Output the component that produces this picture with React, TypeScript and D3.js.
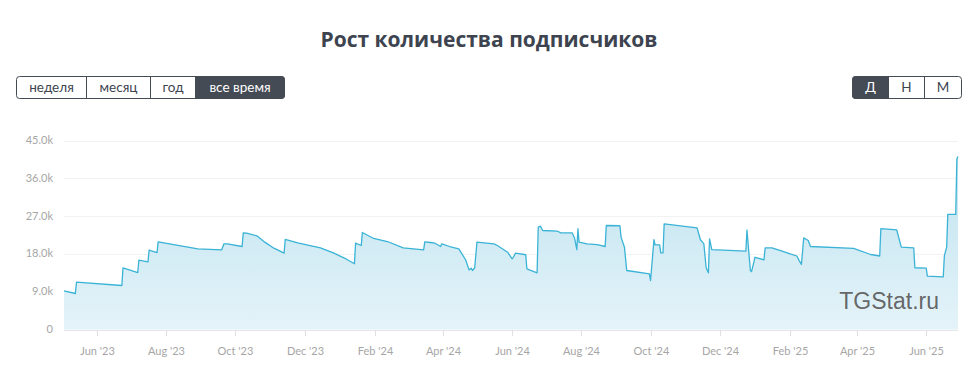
import React from "react";
import * as d3 from "d3";

const dates: string[] = [
  "2023-05-03","2023-05-13","2023-05-14","2023-06-23","2023-06-24","2023-07-07","2023-07-08","2023-07-16","2023-07-17","2023-07-24",
  "2023-07-25","2023-08-29","2023-09-19","2023-09-21","2023-09-24","2023-10-07","2023-10-08","2023-10-11","2023-10-20","2023-10-27",
  "2023-11-04","2023-11-13","2023-11-14","2023-11-25","2023-12-15","2023-12-27","2024-01-07","2024-01-14","2024-01-15","2024-01-20",
  "2024-01-21","2024-01-31","2024-02-12","2024-02-26","2024-03-15","2024-03-16","2024-03-21","2024-03-25","2024-03-30","2024-03-31",
  "2024-04-07","2024-04-15","2024-04-21","2024-04-24","2024-04-26","2024-04-27","2024-04-29","2024-05-01","2024-05-16","2024-05-19",
  "2024-05-28","2024-06-01","2024-06-02","2024-06-04","2024-06-13","2024-06-14","2024-06-23","2024-06-24","2024-06-26","2024-06-28",
  "2024-07-11","2024-07-14","2024-07-24","2024-07-26","2024-07-28","2024-07-29","2024-07-30","2024-08-06","2024-08-15","2024-08-22",
  "2024-08-23","2024-09-04","2024-09-05","2024-09-08","2024-09-10","2024-09-30","2024-10-01","2024-10-04","2024-10-05","2024-10-09",
  "2024-10-10","2024-10-12","2024-10-13","2024-11-11","2024-11-14","2024-11-17","2024-11-19","2024-11-21","2024-11-22","2024-11-24",
  "2024-12-24","2024-12-25","2024-12-26","2024-12-28","2024-12-29","2024-12-31","2025-01-01","2025-01-09","2025-01-10","2025-01-16",
  "2025-01-25","2025-02-01","2025-02-07","2025-02-09","2025-02-11","2025-02-13","2025-02-17","2025-02-19","2025-03-29","2025-04-13",
  "2025-04-21","2025-04-22","2025-05-06","2025-05-10","2025-05-21","2025-05-22","2025-06-01","2025-06-02","2025-06-16","2025-06-17",
  "2025-06-19","2025-06-20","2025-06-27","2025-06-28","2025-06-29",
];

const subscribers: number[] = [
  9200, 8570, 11260, 10480, 14690, 13570, 16500, 16100, 18880, 18330,
  20880, 19200, 18980, 20400, 20400, 19760, 23000, 22930, 22300, 20800,
  19360, 18170, 21430, 20640, 19450, 18170, 16740, 15640, 20550, 20000,
  23100, 21670, 20950, 19450, 18980, 20880, 20710, 20550, 19760, 20400,
  19760, 19200, 16600, 14200, 14600, 14050, 14690, 20800, 20400, 20000,
  18400, 16830, 17200, 18170, 17800, 14450, 13500, 24360, 24600, 23570,
  23400, 23000, 23000, 21800, 19000, 24000, 20800, 20400, 20200, 19760,
  24760, 24700, 22000, 19600, 14050, 13260, 11670, 21400, 20170, 20170,
  18260, 18260, 25170, 24200, 21360, 20400, 14700, 13500, 21600, 19000,
  18640, 23700, 20400, 14050, 13800, 16000, 17200, 16600, 19450, 19450,
  18640, 18000, 17500, 16400, 15500, 21800, 21200, 19760, 19300, 17860,
  17500, 24000, 23700, 19600, 19450, 14700, 14600, 12700, 12550, 17600,
  19600, 27400, 27400, 40600, 41200,
];

const yTicks: number[] = [0, 9000, 18000, 27000, 36000, 45000];
const yTickLabels: string[] = ["0", "9.0k", "18.0k", "27.0k", "36.0k", "45.0k"];

const xTickDates: string[] = [
  "2023-06-01","2023-08-01","2023-10-01","2023-12-01","2024-02-01","2024-04-01","2024-06-01",
  "2024-08-01","2024-10-01","2024-12-01","2025-02-01","2025-04-01","2025-06-01",
];
const xTickLabels: string[] = [
  "Jun '23","Aug '23","Oct '23","Dec '23","Feb '24","Apr '24","Jun '24",
  "Aug '24","Oct '24","Dec '24","Feb '25","Apr '25","Jun '25",
];

const periodButtons: string[] = ["неделя", "месяц", "год", "все время"];
const periodWidths: number[] = [70, 64, 45, 89];
const groupButtons: string[] = ["Д", "Н", "М"];

const title = "Рост количества подписчиков";

const parse = d3.utcParse("%Y-%m-%d");

export default function App() {
  const W = 968;
  const H = 371;
  const left = 64;
  const right = 958;
  const top = 140.5;
  const bottom = 329.5;

  const points = dates.map((d, i) => ({ date: parse(d) as Date, value: subscribers[i] }));

  const x = d3
    .scaleUtc()
    .domain([parse("2023-05-03") as Date, parse("2025-06-29") as Date])
    .range([left, right]);
  const y = d3.scaleLinear().domain([0, 45000]).range([bottom, top]);

  const line = d3
    .line<{ date: Date; value: number }>()
    .x((p) => x(p.date))
    .y((p) => y(p.value));
  const area = d3
    .area<{ date: Date; value: number }>()
    .x((p) => x(p.date))
    .y0(y(0))
    .y1((p) => y(p.value));

  const font = "Lato, 'Open Sans', sans-serif";

  let bx = 16.5;
  const periodRects = periodButtons.map((label, i) => {
    const r = { label, x: bx, w: periodWidths[i], active: i === periodButtons.length - 1 };
    bx += periodWidths[i];
    return r;
  });
  const gStart = 852.5;
  const gW = [36, 36, 37];
  let gx = gStart;
  const groupRects = groupButtons.map((label, i) => {
    const r = { label, x: gx, w: gW[i], active: i === 0 };
    gx += gW[i];
    return r;
  });

  const btnY = 76.5;
  const btnH = 22;
  const dark = "#454b55";

  const renderGroup = (rects: { label: string; x: number; w: number; active: boolean }[], key: string) => {
    const x0 = rects[0].x;
    const x1 = rects[rects.length - 1].x + rects[rects.length - 1].w;
    return (
      <g key={key}>
        <rect x={x0} y={btnY} width={x1 - x0} height={btnH} rx={3} fill="#fff" stroke={dark} strokeWidth={1} />
        {rects.map((r, i) => (
          <g key={i}>
            {r.active && (
              <rect
                x={r.x}
                y={btnY}
                width={r.w}
                height={btnH}
                rx={i === 0 || i === rects.length - 1 ? 3 : 0}
                fill={dark}
                stroke={dark}
              />
            )}
            {r.active && i === rects.length - 1 && (
              <rect x={r.x} y={btnY} width={4} height={btnH} fill={dark} />
            )}
            {r.active && i === 0 && (
              <rect x={r.x + r.w - 4} y={btnY} width={4} height={btnH} fill={dark} />
            )}
            {i > 0 && <line x1={r.x} x2={r.x} y1={btnY} y2={btnY + btnH} stroke={dark} strokeWidth={1} />}
            <text
              x={r.x + r.w / 2}
              y={btnY + 15.5}
              textAnchor="middle"
              fontFamily={font}
              fontSize={13.5}
              fill={r.active ? "#fff" : "#3d4450"}
            >
              {r.label}
            </text>
          </g>
        ))}
      </g>
    );
  };

  return (
    <svg
      width={W}
      height={H}
      style={{ position: "absolute", left: 0, top: 0, background: "#fff" }}
    >
      <defs>
        <linearGradient id="fillGrad" x1="0" y1="0" x2="0" y2="1">
          <stop offset="0%" stopColor="#bfe3ef" />
          <stop offset="100%" stopColor="#e4f3f9" />
        </linearGradient>
      </defs>
      <rect x={0} y={0} width={W} height={H} fill="#fff" />
      <text
        x={489}
        y={47}
        textAnchor="middle"
        fontFamily="'Open Sans', Lato, sans-serif"
        fontWeight={700}
        fontSize={21}
        fill="#3d4450"
      >
        {title}
      </text>

      {renderGroup(periodRects, "period")}
      {renderGroup(groupRects, "group")}

      {yTicks.map((t, i) => (
        <g key={t}>
          {t > 0 && (
            <line x1={left} x2={right} y1={Math.round(y(t)) + 0.5} y2={Math.round(y(t)) + 0.5} stroke="#f2f2f2" strokeWidth={1} />
          )}
          <text
            x={53}
            y={y(t) + 3.5}
            textAnchor="end"
            fontFamily={font}
            fontSize={11}
            fill="#a6a6a6"
          >
            {yTickLabels[i]}
          </text>
        </g>
      ))}

      <path d={area(points) || ""} fill="url(#fillGrad)" />
      <path d={line(points) || ""} fill="none" stroke="#3ab3d6" strokeWidth={1.3} strokeLinejoin="round" />

      <line x1={left} x2={right} y1={330.5} y2={330.5} stroke="#e6e6e6" strokeWidth={1} />
      {xTickDates.map((d, i) => {
        const px = Math.round(x(parse(d) as Date)) + 0.5;
        return (
          <g key={d}>
            <line x1={px} x2={px} y1={330.5} y2={336} stroke="#e0e0e0" strokeWidth={1} />
            <text x={px} y={355} textAnchor="middle" fontFamily={font} fontSize={11} fill="#a6a6a6">
              {xTickLabels[i]}
            </text>
          </g>
        );
      })}

      <text
        x={939}
        y={309}
        textAnchor="end"
        fontFamily="'Liberation Sans', Arial, sans-serif"
        fontSize={23}
        fill="#555"
        fillOpacity={0.9}
      >
        TGStat.ru
      </text>
    </svg>
  );
}
